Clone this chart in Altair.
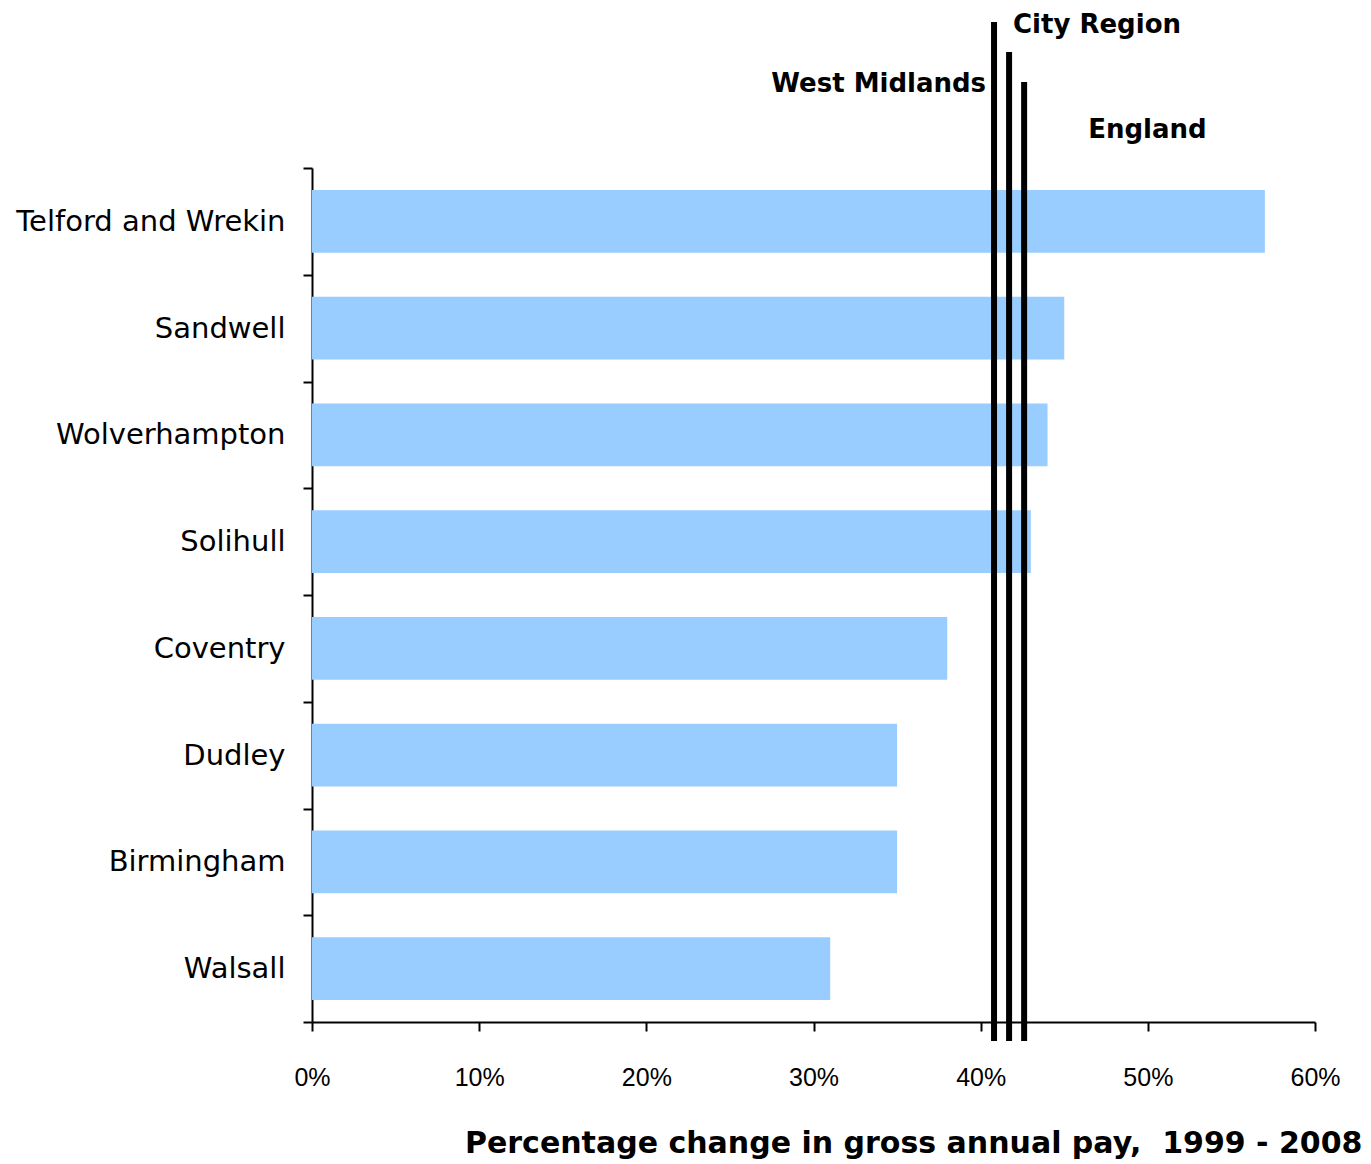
import altair as alt
import pandas as pd

areas = ["Telford and Wrekin", "Sandwell", "Wolverhampton", "Solihull",
         "Coventry", "Dudley", "Birmingham", "Walsall"]
change = [0.57, 0.45, 0.44, 0.43, 0.38, 0.35, 0.35, 0.31]

ref_names = ["City Region", "West Midlands", "England"]
ref_values = [0.408, 0.417, 0.426]

x_ticks = [0, 0.1, 0.2, 0.3, 0.4, 0.5, 0.6]
x_title = "Percentage change in gross annual pay,\u00a0 1999 - 2008"

bars_df = pd.DataFrame({"area": areas, "change": change})
ref_df = pd.DataFrame({"name": ref_names, "value": ref_values})

x_scale = alt.Scale(domain=[0, 0.6], nice=False)
y_scale = alt.Scale(domain=areas, paddingInner=0, paddingOuter=0)

bars = alt.Chart(bars_df).mark_bar(color="#99CCFF", height={"band": 0.59}).encode(
    x=alt.X("change:Q", scale=x_scale,
            axis=alt.Axis(values=x_ticks, format="%", grid=False,
                          labelFont="Liberation Sans", labelFontSize=25,
                          labelColor="black", labelBaseline="alphabetic",
                          labelPadding=54, labelFlush=False,
                          tickSize=9, tickWidth=2, tickColor="black",
                          domainColor="black", domainWidth=2,
                          title=x_title, titleFont="DejaVu Sans",
                          titleFontWeight="bold", titleFontSize=30,
                          titleColor="black", titleAlign="right",
                          titleBaseline="alphabetic", titleX=1050, titleY=130)),
    y=alt.Y("area:N", scale=y_scale, sort=areas,
            axis=alt.Axis(tickBand="extent", grid=False, title=None,
                          labelFont="DejaVu Sans", labelFontSize=29,
                          labelLimit=500,
                          labelColor="black", labelPadding=18,
                          tickSize=9, tickWidth=2, tickColor="black",
                          domainColor="black", domainWidth=2)),
)

# line tops (pixels in plot coords) and label placement per reference line
line_style = {
    "City Region": dict(top=-146, dx=19, ty=-135, align="left"),
    "West Midlands": dict(top=-116, dx=-23, ty=-76, align="right"),
    "England": dict(top=-86, dx=64, ty=-30, align="left"),
}

layers = [bars]
for name in ref_names:
    s = line_style[name]
    base = alt.Chart(ref_df).transform_filter(alt.datum.name == name)
    rule = base.mark_rule(color="black", strokeWidth=6).encode(
        x=alt.X("value:Q", scale=x_scale),
        y=alt.value(s["top"]),
        y2=alt.value(873),
    )
    text = base.mark_text(font="DejaVu Sans", fontWeight="bold", fontSize=26,
                          color="black", align=s["align"], baseline="alphabetic",
                          dx=s["dx"]).encode(
        x=alt.X("value:Q", scale=x_scale),
        y=alt.value(s["ty"]),
        text="name:N",
    )
    layers += [rule, text]

chart = alt.layer(*layers).properties(
    width=1003, height=854,
    autosize=alt.AutoSizeParams(type="none"),
    padding={"left": 304, "top": 160, "right": 48, "bottom": 138},
    view=alt.ViewBackground(stroke="transparent", strokeWidth=0, strokeOpacity=0),
).configure_view(stroke="transparent", strokeWidth=0, strokeOpacity=0).configure(background="white")

chart.save("out.html", embed_options={"renderer": "svg", "actions": False})
